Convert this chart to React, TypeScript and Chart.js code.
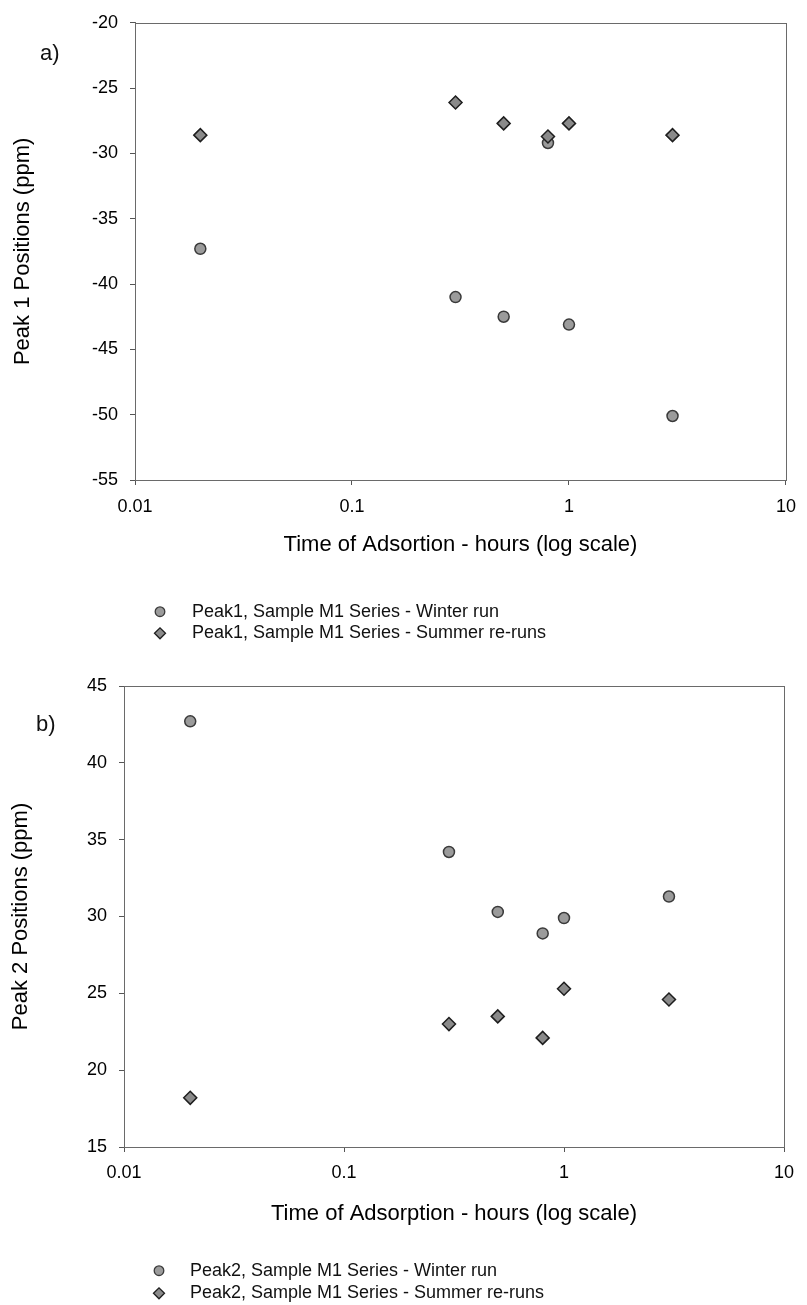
import React, { useEffect, useRef } from "react";
import { Chart, registerables } from "chart.js";

Chart.register(...registerables);

// ---------------- data ----------------
const timeHours = [0.02, 0.3, 0.5, 0.8, 1, 3];

const peak1Winter = [-37.3, -41.0, -42.5, -29.2, -43.1, -50.1];
const peak1Summer = [-28.6, -26.1, -27.7, -28.7, -27.7, -28.6];

const peak2Winter = [42.7, 34.2, 30.3, 28.9, 29.9, 31.3];
const peak2Summer = [18.2, 23.0, 23.5, 22.1, 25.3, 24.6];

const xTickValues = [0.01, 0.1, 1, 10];
const xTickLabels = ["0.01", "0.1", "1", "10"];

const peak1Legend = [
  "Peak1, Sample M1 Series - Winter run",
  "Peak1, Sample M1 Series - Summer re-runs",
];
const peak2Legend = [
  "Peak2, Sample M1 Series - Winter run",
  "Peak2, Sample M1 Series - Summer re-runs",
];

const FONT = "'Liberation Sans', Arial, Helvetica, sans-serif";

// ---------------- decoration plugin (frame, panel label, legend) ----------------
const decorPlugin = {
  id: "decor",
  afterDraw(chart: any, _args: any, opts: any) {
    const { ctx, chartArea } = chart;
    ctx.save();
    // frame around plot area
    ctx.strokeStyle = "#6a6a6a";
    ctx.lineWidth = 1;
    ctx.strokeRect(
      Math.round(chartArea.left) + 0.5,
      Math.round(chartArea.top) + 0.5,
      Math.round(chartArea.right - chartArea.left),
      Math.round(chartArea.bottom - chartArea.top)
    );
    // panel label
    ctx.fillStyle = "#111";
    ctx.font = `22px ${FONT}`;
    ctx.textAlign = "left";
    ctx.textBaseline = "middle";
    ctx.fillText(opts.panelLabel, opts.panelX, opts.panelY);
    // legend
    ctx.font = `18px ${FONT}`;
    chart.data.datasets.forEach((ds: any, i: number) => {
      const y = opts.legendY + i * opts.legendGap;
      const x = opts.markerX;
      ctx.beginPath();
      if (ds.pointStyle === "rectRot") {
        const r = 5.5;
        ctx.moveTo(x - r, y);
        ctx.lineTo(x, y - r);
        ctx.lineTo(x + r, y);
        ctx.lineTo(x, y + r);
        ctx.closePath();
      } else {
        ctx.arc(x, y, 4.8, 0, Math.PI * 2);
      }
      ctx.fillStyle = ds.backgroundColor;
      ctx.fill();
      ctx.lineWidth = 1.3;
      ctx.strokeStyle = ds.borderColor;
      ctx.stroke();
      ctx.fillStyle = "#111";
      ctx.fillText(ds.label, opts.textX, y);
    });
    ctx.restore();
  },
};

type PanelSpec = {
  winter: number[];
  summer: number[];
  legend: string[];
  yMin: number;
  yMax: number;
  yTitle: string;
  xTitle: string;
  padding: { left: number; right: number; top: number; bottom: number };
  yWidth: number;
  xHeight: number;
  yTitlePad: number;
  xTitlePad: number;
  xTickPad: number;
  panelLabel: string;
  panelX: number;
  panelY: number;
  legendY: number;
  legendGap: number;
  markerX: number;
  textX: number;
};

function buildConfig(p: PanelSpec): any {
  const tickFont = { family: FONT, size: 18 };
  const titleFont = { family: FONT, size: 22 };
  return {
    type: "scatter",
    data: {
      datasets: [
        {
          label: p.legend[0],
          data: timeHours.map((t, i) => ({ x: t, y: p.winter[i] })),
          pointStyle: "circle",
          pointRadius: 5.5,
          pointBorderWidth: 1.5,
          backgroundColor: "#9b9b9b",
          borderColor: "#3a3a3a",
          showLine: false,
          order: 1,
        },
        {
          label: p.legend[1],
          data: timeHours.map((t, i) => ({ x: t, y: p.summer[i] })),
          pointStyle: "rectRot",
          pointRadius: 6.5,
          pointBorderWidth: 1.5,
          backgroundColor: "#8a8a8a",
          borderColor: "#1e1e1e",
          showLine: false,
          order: 0,
        },
      ],
    },
    options: {
      responsive: false,
      animation: false,
      devicePixelRatio: 1,
      layout: { padding: p.padding },
      plugins: {
        legend: { display: false },
        tooltip: { enabled: false },
        decor: {
          panelLabel: p.panelLabel,
          panelX: p.panelX,
          panelY: p.panelY,
          legendY: p.legendY,
          legendGap: p.legendGap,
          markerX: p.markerX,
          textX: p.textX,
        },
      },
      scales: {
        x: {
          type: "logarithmic",
          min: xTickValues[0],
          max: xTickValues[xTickValues.length - 1],
          afterBuildTicks: (scale: any) => {
            scale.ticks = xTickValues.map((v) => ({ value: v }));
          },
          afterFit: (scale: any) => {
            scale.height = p.xHeight;
          },
          ticks: {
            autoSkip: false,
            maxRotation: 0,
            padding: p.xTickPad,
            color: "#000",
            font: tickFont,
            callback: (_v: any, i: number) => xTickLabels[i],
          },
          grid: {
            display: true,
            drawOnChartArea: false,
            drawTicks: true,
            tickLength: 5,
            color: "#555",
          },
          border: { display: true, color: "#6a6a6a" },
          title: {
            display: true,
            text: p.xTitle,
            color: "#000",
            font: titleFont,
            padding: { top: 0, bottom: p.xTitlePad },
          },
        },
        y: {
          type: "linear",
          min: p.yMin,
          max: p.yMax,
          afterFit: (scale: any) => {
            scale.width = p.yWidth;
          },
          ticks: {
            stepSize: 5,
            padding: 12,
            color: "#000",
            font: tickFont,
          },
          grid: {
            display: true,
            drawOnChartArea: false,
            drawTicks: true,
            tickLength: 5,
            color: "#555",
          },
          border: { display: true, color: "#6a6a6a" },
          title: {
            display: true,
            text: p.yTitle,
            color: "#000",
            font: titleFont,
            padding: { top: p.yTitlePad, bottom: 0 },
          },
        },
      },
    },
    plugins: [decorPlugin],
  };
}

const panelA: PanelSpec = {
  winter: peak1Winter,
  summer: peak1Summer,
  legend: peak1Legend,
  yMin: -55,
  yMax: -20,
  yTitle: "Peak 1 Positions (ppm)",
  xTitle: "Time of Adsortion - hours (log scale)",
  padding: { left: 0, right: 12, top: 20, bottom: 90 },
  yWidth: 135,
  xHeight: 80,
  yTitlePad: 10,
  xTitlePad: 2,
  xTickPad: 11,
  panelLabel: "a)",
  panelX: 40,
  panelY: 54,
  legendY: 611.7,
  legendGap: 21.6,
  markerX: 160,
  textX: 192,
};

const panelB: PanelSpec = {
  winter: peak2Winter,
  summer: peak2Summer,
  legend: peak2Legend,
  yMin: 15,
  yMax: 45,
  yTitle: "Peak 2 Positions (ppm)",
  xTitle: "Time of Adsorption - hours (log scale)",
  padding: { left: 0, right: 23, top: 36, bottom: 78 },
  yWidth: 124,
  xHeight: 80,
  yTitlePad: 8,
  xTitlePad: 0,
  xTickPad: 10,
  panelLabel: "b)",
  panelX: 36,
  panelY: 75,
  legendY: 620.7,
  legendGap: 22.6,
  markerX: 159,
  textX: 190,
};

function Panel({ spec, top, height }: { spec: PanelSpec; top: number; height: number }) {
  const ref = useRef<HTMLCanvasElement | null>(null);
  useEffect(() => {
    if (!ref.current) return;
    const chart = new Chart(ref.current, buildConfig(spec));
    return () => chart.destroy();
  }, [spec]);
  return (
    <div style={{ position: "absolute", left: 0, top, width: 807, height }}>
      <canvas ref={ref} width={807} height={height} style={{ display: "block", width: 807, height }} />
    </div>
  );
}

export default function App() {
  return (
    <div
      style={{
        position: "absolute",
        left: 0,
        top: 0,
        width: 807,
        height: 1305,
        background: "#fff",
        overflow: "hidden",
      }}
    >
      <Panel spec={panelA} top={0} height={650} />
      <Panel spec={panelB} top={650} height={655} />
    </div>
  );
}
